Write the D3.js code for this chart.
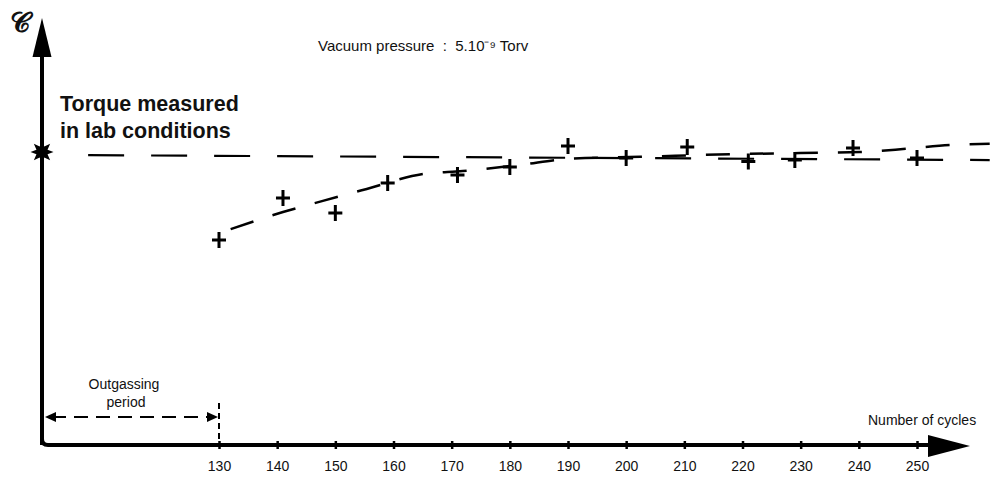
<!DOCTYPE html>
<html>
<head>
<meta charset="utf-8">
<script src="https://cdn.jsdelivr.net/npm/d3@7"></script>
<style>
  html, body { margin: 0; padding: 0; background: #fff; }
  svg { display: block; }
  text { font-family: "Liberation Sans", Arial, sans-serif; fill: #111; }
</style>
</head>
<body>
<svg id="chart" width="993" height="478"></svg>
<script>
// ---- data ----
const tickLabels = [130, 140, 150, 160, 170, 180, 190, 200, 210, 220, 230, 240, 250];
const measuredCycles = [130, 141, 150, 159, 171, 180, 190, 200, 210.5, 221, 229, 239, 250];
const measuredTorque = [70.9, 85.5, 80.3, 90.7, 93.4, 96.2, 103.5, 99.3, 103.1, 98.1, 98.6, 102.8, 99.3];
const trendCycles = [132, 141, 147.7, 155.4, 165.1, 171.9, 181.7, 190, 202.4, 219.6, 229.9, 240.2, 247.6, 255.7, 262.5];
const trendTorque = [74.7, 80.6, 84.4, 88.6, 93.8, 94.8, 96.9, 99.0, 99.7, 100.7, 101.0, 101.4, 102.4, 103.8, 104.2];
const labCycles = [107.5, 262.5];
const labTorque = [100.3, 98.6];
const outgassingEnd = 130;

const svg = d3.select("#chart");
const x = d3.scaleLinear().domain([130, 250]).range([219, 917]);
const y = d3.scaleLinear().domain([0, 100]).range([445, 156]);
const x0 = 42, y0 = 445;

// ---- axes ----
const ax = svg.append("g");
ax.append("path").attr("d", `M${x0},${y0} L${x0},50`).attr("stroke", "#000").attr("stroke-width", 4).attr("fill", "none");
ax.append("path").attr("d", `M${x0},${y0-6} Q${x0},${y0} ${x0+6},${y0} L935,${y0}`).attr("stroke", "#000").attr("stroke-width", 4).attr("fill", "none");
ax.append("path").attr("d", `M${x0},18 L${x0+9.5},57 L${x0-9.5},57 Z`).attr("fill", "#000");
ax.append("path").attr("d", `M970,${y0+1} L928,${y0-10} L928,${y0+12} Z`).attr("fill", "#000");

const xAxis = d3.axisBottom(x).tickValues(tickLabels).tickFormat(d3.format("d")).tickSizeInner(3).tickSizeOuter(0).tickPadding(13);
const gx = svg.append("g").attr("transform", `translate(0,${y0})`).call(xAxis);
gx.select(".domain").remove();
gx.selectAll(".tick line").attr("y1", -4).attr("y2", 4).attr("stroke", "#000").attr("stroke-width", 2.5);
gx.selectAll(".tick text").attr("font-size", 14).attr("font-family", "Liberation Sans, Arial, sans-serif").attr("fill", "#111");

// ---- lab torque reference (dashed) ----
const line = d3.line().x(d => x(d[0])).y(d => y(d[1]));
svg.append("path")
  .datum(labCycles.map((c, i) => [c, labTorque[i]]))
  .attr("d", line)
  .attr("stroke", "#000").attr("stroke-width", 2.2).attr("fill", "none")
  .attr("stroke-dasharray", "36,27");

// ---- trend curve ----
const curve = d3.line().x(d => x(d[0])).y(d => y(d[1])).curve(d3.curveMonotoneX);
svg.append("path")
  .datum(trendCycles.map((c, i) => [c, trendTorque[i]]))
  .attr("d", curve)
  .attr("stroke", "#000").attr("stroke-width", 2.5).attr("fill", "none")
  .attr("stroke-dasharray", "24,20");

// ---- measured points (crosses) ----
const pts = measuredCycles.map((c, i) => [c, measuredTorque[i]]);
svg.append("g").selectAll("path.cross").data(pts).join("path")
  .attr("class", "cross")
  .attr("d", d => {
    const cx = x(d[0]), cy = y(d[1]);
    return `M${cx-7},${cy} L${cx+7},${cy} M${cx},${cy-8} L${cx},${cy+8}`;
  })
  .attr("stroke", "#000").attr("stroke-width", 3).attr("fill", "none");

// ---- star marker on torque axis ----
const starPts = d3.range(16).map(i => {
  const a = i * Math.PI / 8;
  const r = i % 2 === 0 ? 11.5 : 6;
  return [x0 + r * Math.sin(a), y(100) - 4 - r * Math.cos(a)];
});
svg.append("path").attr("d", "M" + starPts.join("L") + "Z").attr("fill", "#000");

// ---- texts ----
svg.append("text").attr("x", 10).attr("y", 32).attr("font-size", 28).attr("font-weight", "bold")
  .attr("font-family", "DejaVu Serif, serif").text("𝒞");
svg.append("text").attr("x", 318).attr("y", 51).attr("font-size", 15)
  .style("white-space", "pre").attr("xml:space", "preserve")
  .text("Vacuum pressure  :  5.10⁻⁹ Torv");
svg.append("text").attr("x", 60).attr("y", 111).attr("font-size", 21.5).attr("font-weight", "bold").text("Torque measured");
svg.append("text").attr("x", 60).attr("y", 138).attr("font-size", 21.5).attr("font-weight", "bold").text("in lab conditions");
svg.append("text").attr("x", 868).attr("y", 425).attr("font-size", 14).text("Number of cycles");
svg.append("text").attr("x", 124).attr("y", 389).attr("font-size", 14).attr("text-anchor", "middle").text("Outgassing");
svg.append("text").attr("x", 126).attr("y", 407).attr("font-size", 14).attr("text-anchor", "middle").text("period");

// ---- outgassing period arrow ----
const xo = x(outgassingEnd);
svg.append("path").attr("d", `M${x0+10},417 L${xo-10},417`)
  .attr("stroke", "#000").attr("stroke-width", 2).attr("stroke-dasharray", "14,8").attr("fill", "none");
svg.append("path").attr("d", `M${x0+3},417 L${x0+14},412 L${x0+14},422 Z`).attr("fill", "#000");
svg.append("path").attr("d", `M${xo-1},417 L${xo-12},412 L${xo-12},422 Z`).attr("fill", "#000");
svg.append("path").attr("d", `M${xo},403 L${xo},${y0}`)
  .attr("stroke", "#000").attr("stroke-width", 2).attr("stroke-dasharray", "6,4").attr("fill", "none");
</script>
</body>
</html>
